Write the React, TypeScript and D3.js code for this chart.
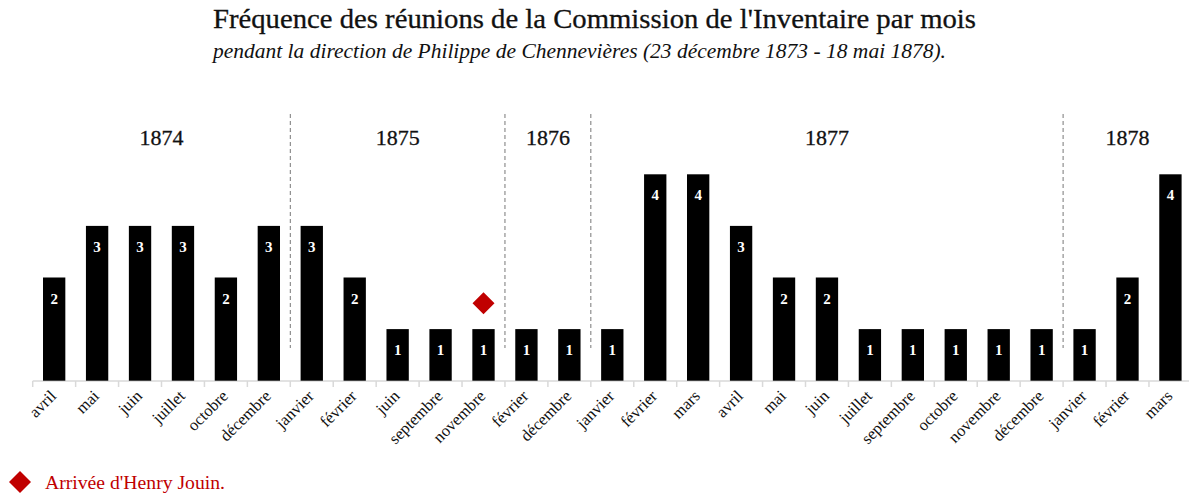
import React from "react";
import * as d3 from "d3";

const months = ["avril","mai","juin","juillet","octobre","décembre","janvier","février","juin","septembre","novembre","février","décembre","janvier","février","mars","avril","mai","juin","juillet","septembre","octobre","novembre","décembre","janvier","février","mars"];
const years = ["1874","1874","1874","1874","1874","1874","1875","1875","1875","1875","1875","1876","1876","1877","1877","1877","1877","1877","1877","1877","1877","1877","1877","1877","1878","1878","1878"];
const meetings = [2,3,3,3,2,3,3,2,1,1,1,1,1,1,4,4,3,2,2,1,1,1,1,1,1,2,4];
const yearLabels = ["1874","1875","1876","1877","1878"];
const markerIndex = 10; // novembre 1875
const markerValue = 1.5;

const W = 1189, H = 495;
const serif = "'Liberation Serif', 'DejaVu Serif', serif";
const red = "#c00000";

export default function App() {
  const keys = months.map((m, i) => `${years[i]}-${m}-${i}`);
  const x = d3.scaleBand<string>().domain(keys).range([32.7, 1191.9]).paddingInner(0.48).paddingOuter(0.24);
  const y = d3.scaleLinear().domain([0, 4]).range([380.7, 174.3]);
  const step = x.step();
  const x0 = 32.7;
  const boundaries = d3.range(keys.length + 1).map(i => x0 + i * step);

  const seps: number[] = [];
  for (let i = 1; i < years.length; i++) if (years[i] !== years[i - 1]) seps.push(boundaries[i]);

  const yearCenters = yearLabels.map(yr => {
    const idx = years.map((v, i) => (v === yr ? i : -1)).filter(i => i >= 0);
    const a = boundaries[idx[0]], b = boundaries[idx[idx.length - 1] + 1];
    return { yr, cx: (a + b) / 2 };
  });

  const mk = (cx: number, cy: number, r: number) => `M${cx},${cy - r}L${cx + r},${cy}L${cx},${cy + r}L${cx - r},${cy}Z`;

  return (
    <svg width={W} height={H} style={{ position: "absolute", left: 0, top: 0, background: "#fff" }}>
      <text x={213} y={28} fontFamily={serif} fontSize={27} textLength={763} lengthAdjust="spacingAndGlyphs" fill="#111" stroke="#111" strokeWidth={0.3}>Fréquence des réunions de la Commission de l'Inventaire par mois</text>
      <text x={213} y={58} fontFamily={serif} fontSize={22} fontStyle="italic" textLength={733} lengthAdjust="spacingAndGlyphs" fill="#111">pendant la direction de Philippe de Chennevières (23 décembre 1873 - 18 mai 1878).</text>

      {seps.map((sx, i) => (
        <line key={i} x1={sx} x2={sx} y1={114} y2={348} stroke="#777" strokeWidth={1} strokeDasharray="4,3" />
      ))}

      {yearCenters.map(d => (
        <text key={d.yr} x={d.cx} y={145} textAnchor="middle" fontFamily={serif} fontSize={22} fill="#111" stroke="#111" strokeWidth={0.3}>{d.yr}</text>
      ))}

      <line x1={x0} x2={W} y1={381} y2={381} stroke="#d9d9d9" strokeWidth={1.5} />
      {boundaries.map((bx, i) => (
        <line key={i} x1={bx} x2={bx} y1={381} y2={387} stroke="#d9d9d9" strokeWidth={1.5} />
      ))}

      {meetings.map((v, i) => (
        <g key={i}>
          <rect x={x(keys[i])!} y={y(v)} width={x.bandwidth()} height={y(0) - y(v)} fill="#000" />
          <text x={x(keys[i])! + x.bandwidth() / 2} y={y(v) + 26} textAnchor="middle" fontFamily={serif} fontWeight="bold" fontSize={15} fill="#fff">{v}</text>
        </g>
      ))}

      {months.map((m, i) => {
        const cx = x(keys[i])! + x.bandwidth() / 2 + 3;
        return (
          <text key={i} transform={`translate(${cx},${397}) rotate(-45)`} textAnchor="end" fontFamily={serif} fontSize={16.5} fill="#111">{m}</text>
        );
      })}

      <path d={mk(x(keys[markerIndex])! + x.bandwidth() / 2, y(markerValue), 11)} fill={red} />

      <path d={mk(20, 482, 11)} fill={red} />
      <text x={45} y={489} fontFamily={serif} fontSize={18} textLength={180} lengthAdjust="spacingAndGlyphs" fill={red}>Arrivée d'Henry Jouin.</text>
    </svg>
  );
}
